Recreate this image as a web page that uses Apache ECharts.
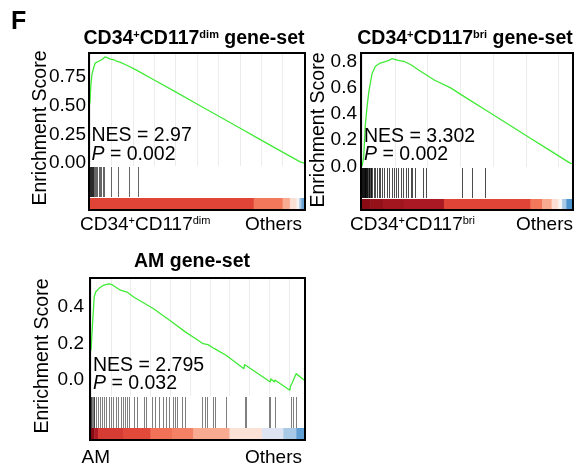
<!DOCTYPE html>
<html><head><meta charset="utf-8">
<script src="https://cdn.jsdelivr.net/npm/echarts@6/dist/echarts.min.js"></script>
<style>html,body{margin:0;padding:0;background:#fff}#c{width:578px;height:465px}</style>
</head><body><div id="c"></div>
<script>
// ---- data: running enrichment score [rank %, ES] ----
const esDim = [[0,0.52],[0.2,0.62],[0.5,0.70],[0.9,0.77],[1.7,0.83],[2.4,0.87],[3.2,0.875],[4.0,0.887],[4.8,0.89],[5.5,0.90],[6.4,0.915],[7.0,0.924],[8.0,0.918],[8.6,0.915],[9.6,0.905],[9.8,0.912],[11.2,0.9],[12.4,0.887],[13.0,0.884],[13.9,0.88],[17.5,0.85],[21.7,0.81],[30,0.723],[40,0.62],[50,0.514],[60,0.41],[70,0.305],[80,0.20],[90,0.095],[98,0.012],[100,0.0]];
const esBri = [[0,0.0],[0.8,0.07],[1.6,0.32],[2.5,0.47],[3.3,0.575],[4.8,0.71],[6.4,0.765],[8.7,0.79],[11.1,0.80],[12.8,0.81],[14.2,0.823],[17.3,0.81],[20.4,0.80],[23.5,0.775],[26.6,0.74],[30.5,0.70],[34.4,0.66],[42.2,0.60],[50,0.52],[60,0.419],[70,0.318],[80,0.217],[90,0.116],[98.5,0.03],[100,0.02]];
const esAM = [[0,0.16],[0.7,0.30],[1.5,0.453],[2.2,0.48],[3.0,0.47],[3.8,0.50],[4.5,0.49],[5.3,0.513],[6.8,0.52],[8.4,0.525],[9.9,0.52],[11.5,0.507],[13.8,0.49],[16.9,0.48],[20.0,0.453],[29.2,0.39],[36.9,0.326],[44.6,0.26],[49.2,0.225],[52.6,0.198],[54.9,0.193],[58.0,0.171],[63.4,0.135],[71.8,0.062],[72.1,0.085],[84.2,-0.011],[84.4,0.007],[86.1,-0.011],[86.3,0.0],[93.4,-0.056],[93.6,-0.035],[94.3,-0.04],[94.5,-0.015],[95.2,-0.02],[95.4,0.01],[96.1,0.005],[96.3,0.035],[100,0.0]];
// ---- data: gene-set hit positions (rank %) ----
const hitsDim = [0,0.2,0.4,0.6,0.8,1.0,1.2,1.4,2.0,2.5,2.9,3.5,4.0,4.5,5.1,6.0,6.6,9.7,13.1,18.2,22.5];
const hitsBri = [0,0.2,0.4,0.6,0.8,1.0,1.2,1.4,1.6,1.8,2.0,2.3,2.6,2.9,3.2,3.5,3.8,4.1,4.4,4.7,5.6,6.4,7.2,7.9,8.7,9.5,10.7,11.8,12.9,14.2,15.0,16.0,17.3,18.5,19.6,20.9,22.0,23.2,24.0,25.1,29.0,30.5,47.5,52.5,58.4];
const hitsAM = [0,0.2,0.5,0.9,1.2,1.6,2.5,3.5,4.4,5.1,6.0,7.2,8.3,9.5,10.4,11.8,12.9,13.9,14.8,15.9,16.9,17.9,20.3,21.5,24.9,25.6,28.6,30.0,31.8,33.7,35.1,36.7,38.3,39.5,40.4,42.5,44.1,52.2,53.3,54.5,57.3,58.2,63.3,72.1,73.0,83.4,84.2,86.5,94.1,94.9,96.3];
// ---- data: ranked-list metric bar [start %, end %, metric level] ----
const barDim = [[0,76.5,4],[76.5,90,3],[90,93.4,2],[93.4,96.5,1],[96.5,97.8,0],[97.8,98.8,-2],[98.8,100,-2.7]];
const barBri = [[0,4,5.9],[4,10,5.6],[10,20,5.3],[20,39,5.1],[39,80.2,4],[80.2,85.7,3],[85.7,90.3,2],[90.3,93.5,1],[93.5,95.3,0],[95.3,97.3,-2],[97.3,100,-3]];
const barAM = [[0,1.5,6],[1.5,3.3,5],[3.3,15,4.2],[15,27.9,3.9],[27.9,38,3.1],[38,48,2.8],[48,65,2],[65,80.3,0.9],[80.3,90.3,-1],[90.3,96.4,-2],[96.4,100,-2.8]];
// ---- text values ----
const titles = [['CD34','+','CD117','dim'],['CD34','+','CD117','bri'],['AM']];
const nesVals = ['2.97','3.302','2.795'];
const pVals = ['0.002','0.002','0.032'];
const yTicksDim = [0,0.25,0.5,0.75];
const yTicksBri = [0,0.2,0.4,0.6,0.8];
const yTicksAM = [0,0.2,0.4];

const FONT = '"Liberation Sans", Arial, Helvetica, sans-serif';

const panels = [
  {es:esDim, hits:hitsDim, bar:barDim, ticks:yTicksDim, dec:2, left:90, width:214, esTop:54, esH:112, hitTop:167, hitH:30, barTop:198, barH:11,
   frame:{left:89,top:53,width:216,height:157}, yMin:-0.026, yMax:0.95, gridInt:10, margin:4, hitAlpha:0.6},
  {es:esBri, hits:hitsBri, bar:barBri, ticks:yTicksBri, dec:1, left:362, width:210, esTop:54, esH:113, hitTop:168, hitH:30, barTop:199, barH:10,
   frame:{left:361,top:53,width:212,height:157}, yMin:-0.005, yMax:0.859, gridInt:15.6, margin:5, hitAlpha:0.7},
  {es:esAM, hits:hitsAM, bar:barAM, ticks:yTicksAM, dec:1, left:91, width:213, esTop:279, esH:117, hitTop:397, hitH:31, barTop:428, barH:11,
   frame:{left:90,top:278,width:215,height:162}, yMin:-0.087, yMax:0.551, gridInt:9.3, margin:7, hitAlpha:0.5}
];

const grid = [], xAxis = [], yAxis = [], series = [], barSeriesIdx = [];
panels.forEach((p) => {
  const g0 = grid.length;
  grid.push({left:p.left, top:p.esTop, width:p.width, height:p.esH});
  grid.push({left:p.left, top:p.hitTop, width:p.width, height:p.hitH});
  grid.push({left:p.left, top:p.barTop, width:p.width, height:p.barH});
  grid.push(Object.assign({show:true, borderColor:'#000', borderWidth:2, backgroundColor:'transparent', z:10}, p.frame));
  xAxis.push({gridIndex:g0, type:'value', min:0, max:100, interval:p.gridInt,
    axisLine:{show:false}, axisTick:{show:false}, axisLabel:{show:false},
    splitLine:{show:true, lineStyle:{color:'#ececec', width:1}}});
  yAxis.push({gridIndex:g0, type:'value', min:p.yMin, max:p.yMax,
    axisLine:{show:false}, axisTick:{show:false}, splitLine:{show:false},
    axisLabel:{customValues:p.ticks, formatter:(v)=>Number(v).toFixed(p.dec), fontSize:19, color:'#000', fontFamily:FONT, margin:p.margin}});
  for (let k = 1; k < 4; k++) {
    xAxis.push({gridIndex:g0+k, type:'value', min:0, max:100, show:false});
    yAxis.push({gridIndex:g0+k, type:'value', min:0, max:1, show:false});
  }
  series.push({type:'line', xAxisIndex:g0, yAxisIndex:g0, data:p.es, symbol:'none', showSymbol:false,
    lineStyle:{color:'#40ea36', width:1.3}, animation:false, z:3});
  const alpha = p.hitAlpha;
  series.push({type:'custom', xAxisIndex:g0+1, yAxisIndex:g0+1, data:p.hits.map(v=>[v]), encode:{x:0},
    animation:false,
    renderItem:(params, api) => {
      const a = api.coord([api.value(0), 0]);
      const b = api.coord([api.value(0), 1]);
      const x = Math.round(a[0]) + 0.5;
      return {type:'line', shape:{x1:x, y1:a[1], x2:x, y2:b[1]}, style:{stroke:'rgba(0,0,0,'+alpha+')', lineWidth:1}};
    }});
  barSeriesIdx.push(series.length);
  series.push({type:'custom', xAxisIndex:g0+2, yAxisIndex:g0+2, data:p.bar, encode:{x:[0,1]},
    animation:false,
    renderItem:(params, api) => {
      const a = api.coord([api.value(0), 1]);
      const b = api.coord([api.value(1), 0]);
      return {type:'rect', shape:{x:a[0], y:a[1], width:b[0]-a[0]+0.5, height:b[1]-a[1]}, style:{fill:api.visual('color')}};
    }});
});

function sup(parts) {
  let s = '';
  parts.forEach((t, i) => { s += (i % 2 === 0 ? '{m|' : '{s|') + t + '}'; });
  return s;
}
const richTitle = {m:{fontSize:19.5, fontWeight:'bold', fontFamily:FONT, fill:'#000'}, s:{fontSize:11, fontWeight:'bold', fontFamily:FONT, fill:'#000', verticalAlign:'top'}};
const richLab = {m:{fontSize:19, fontFamily:FONT, fill:'#000'}, s:{fontSize:11, fontFamily:FONT, fill:'#000', verticalAlign:'top'}};
const richP = {i:{fontSize:19.5, fontStyle:'italic', fontFamily:FONT, fill:'#000'}, n:{fontSize:19.5, fontFamily:FONT, fill:'#000'}};

function txt(x, y, style, extra) {
  return Object.assign({type:'text', x:x, y:y, z:20, style:Object.assign({fill:'#000', fontFamily:FONT}, style)}, extra || {});
}

const graphic = [
  txt(11, 22, {text:'F', fontSize:25, fontWeight:'bold', align:'left', verticalAlign:'middle'}),
  txt(194, 39, {text:sup(titles[0].concat([' gene-set'])), rich:richTitle, align:'center', verticalAlign:'middle'}),
  txt(465, 39, {text:sup(titles[1].concat([' gene-set'])), rich:richTitle, align:'center', verticalAlign:'middle'}),
  txt(192, 262, {text:'{m|' + titles[2][0] + ' gene-set}', rich:richTitle, align:'center', verticalAlign:'middle'}),
  txt(41, 128, {text:'Enrichment Score', fontSize:19.5, align:'center', verticalAlign:'middle'}, {rotation:Math.PI/2}),
  txt(319, 130, {text:'Enrichment Score', fontSize:19.5, align:'center', verticalAlign:'middle'}, {rotation:Math.PI/2}),
  txt(43, 356, {text:'Enrichment Score', fontSize:19.5, align:'center', verticalAlign:'middle'}, {rotation:Math.PI/2}),
  txt(91.5, 136, {text:'NES = ' + nesVals[0], fontSize:19.5, align:'left', verticalAlign:'middle'}),
  txt(91.5, 155, {text:'{i|P}{n| = ' + pVals[0] + '}', rich:richP, align:'left', verticalAlign:'middle'}),
  txt(364, 137, {text:'NES = ' + nesVals[1], fontSize:19.5, align:'left', verticalAlign:'middle'}),
  txt(364, 155, {text:'{i|P}{n| = ' + pVals[1] + '}', rich:richP, align:'left', verticalAlign:'middle'}),
  txt(93, 366, {text:'NES = ' + nesVals[2], fontSize:19.5, align:'left', verticalAlign:'middle'}),
  txt(93, 384, {text:'{i|P}{n| = ' + pVals[2] + '}', rich:richP, align:'left', verticalAlign:'middle'}),
  txt(80, 225, {text:sup(titles[0]), rich:richLab, align:'left', verticalAlign:'middle'}),
  txt(302, 225, {text:'Others', fontSize:19, align:'right', verticalAlign:'middle'}),
  txt(350, 225, {text:sup(titles[1]), rich:richLab, align:'left', verticalAlign:'middle'}),
  txt(573, 225, {text:'Others', fontSize:19, align:'right', verticalAlign:'middle'}),
  txt(81.5, 458, {text:titles[2][0], fontSize:19, align:'left', verticalAlign:'middle'}),
  txt(302, 458, {text:'Others', fontSize:19, align:'right', verticalAlign:'middle'})
];

const chart = echarts.init(document.getElementById('c'), null, {renderer:'canvas'});
chart.setOption({
  animation:false,
  backgroundColor:'#fff',
  grid, xAxis, yAxis, series, graphic,
  visualMap:[{type:'continuous', show:false, min:-3, max:6, dimension:2, seriesIndex:barSeriesIdx,
    inRange:{color:['#4e94cf','#a9cae6','#dfe4f3','#f7f4f4','#fcdfd4','#f8ab90','#f3775b','#df4437','#ae1b26','#850a12']}}]
});
</script>
</body></html>
